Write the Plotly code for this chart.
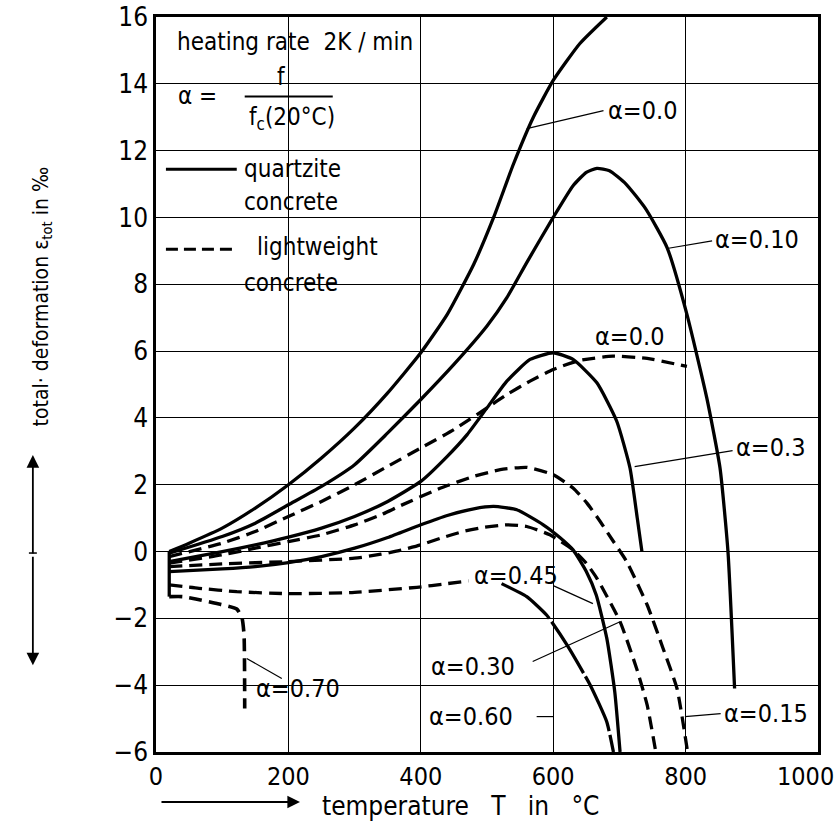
import plotly.graph_objects as go

# ---------------- data (temperature in °C, total deformation in ‰) ----------------
# quartzite concrete (solid)
q00_x = [20, 50, 100, 150, 200, 250, 300, 350, 400, 440, 480, 510, 540, 570, 600, 640, 681]
q00_y = [0, 0.25, 0.7, 1.3, 2.0, 2.8, 3.7, 4.75, 5.95, 7.1, 8.6, 10.0, 11.6, 13.0, 14.1, 15.2, 16.0]

q10_x = [20, 100, 150, 200, 250, 300, 350, 400, 450, 500, 530, 560, 600, 630, 650, 666, 685, 710, 740, 772, 802, 832, 852, 864, 874]
q10_y = [-0.05, 0.45, 0.85, 1.4, 1.95, 2.6, 3.55, 4.55, 5.6, 6.75, 7.6, 8.65, 10.0, 10.95, 11.35, 11.47, 11.4, 11.0, 10.25, 9.1, 7.1, 4.6, 2.5, 0.0, -4.1]

q30_x = [20, 100, 150, 200, 250, 300, 350, 400, 440, 470, 500, 530, 565, 600, 630, 666, 696, 716, 727, 734]
q30_y = [-0.3, 0.0, 0.2, 0.43, 0.7, 1.05, 1.5, 2.1, 2.85, 3.5, 4.3, 5.1, 5.75, 5.95, 5.75, 5.05, 3.9, 2.5, 1.0, 0.0]

q45_x = [20, 100, 150, 200, 250, 300, 350, 400, 440, 480, 510, 545, 585, 610, 630, 650, 665, 681, 693, 701]
q45_y = [-0.6, -0.52, -0.45, -0.33, -0.15, 0.1, 0.42, 0.8, 1.08, 1.28, 1.35, 1.25, 0.8, 0.42, 0.05, -0.6, -1.3, -2.6, -4.2, -6.0]

# lowest curve (label alpha = 0.60): left part short dashes, right part long strokes
q60a_x = [20, 65, 122, 198, 293, 394, 440, 472]
q60a_y = [-1.0, -1.1, -1.2, -1.26, -1.23, -1.07, -0.96, -0.88]
q60b_x = [522, 560, 590, 621, 656, 681, 691]
q60b_y = [-0.96, -1.35, -1.9, -2.8, -4.0, -5.1, -6.0]

# lightweight concrete (dashed)
l00_x = [20, 100, 150, 200, 250, 300, 350, 400, 450, 500, 530, 565, 600, 640, 690, 742, 802]
l00_y = [-0.15, 0.25, 0.6, 1.05, 1.5, 2.0, 2.55, 3.1, 3.65, 4.3, 4.7, 5.1, 5.45, 5.72, 5.85, 5.78, 5.54]

l15_x = [20, 100, 150, 200, 250, 300, 340, 370, 430, 480, 520, 560, 600, 630, 651, 671, 691, 711, 742, 766, 787, 803]
l15_y = [-0.35, -0.1, 0.1, 0.3, 0.5, 0.8, 1.1, 1.38, 1.9, 2.25, 2.45, 2.52, 2.3, 1.9, 1.45, 0.9, 0.3, -0.3, -1.6, -2.9, -4.1, -6.0]

l30_x = [20, 100, 200, 300, 340, 370, 400, 430, 464, 494, 530, 560, 595, 630, 650, 666, 701, 726, 742, 755]
l30_y = [-0.45, -0.37, -0.3, -0.2, -0.08, 0.04, 0.2, 0.4, 0.6, 0.72, 0.8, 0.75, 0.5, 0.05, -0.35, -0.8, -2.1, -3.5, -4.6, -6.0]

l70_x = [20, 40, 60, 90, 122, 130, 133, 134]
l70_y = [-1.35, -1.35, -1.42, -1.55, -1.72, -2.0, -2.5, -4.7]

load_x = [20, 20]
load_y = [0, -1.35]

x_ticks = [0, 200, 400, 600, 800, 1000]
x_ticktext = ["0", "200", "400", "600", "800", ""]   # "1000" is placed separately so it stays inside the page
y_ticks = [-6, -4, -2, 0, 2, 4, 6, 8, 10, 12, 14, 16]

FONT = "DejaVu Sans Condensed, Liberation Sans Narrow, sans-serif"
DASH = "13px,7px"
LW = 3.3
NB = "\u00a0"

fig = go.Figure()

def add(x, y, dash="solid", w=LW):
    fig.add_trace(go.Scatter(x=x, y=y, mode="lines", showlegend=False,
                             line=dict(color="black", width=w, dash=dash, shape="spline", smoothing=0.5),
                             hoverinfo="skip"))

add(q00_x, q00_y)
add(q10_x, q10_y)
add(q30_x, q30_y)
add(q45_x, q45_y)
add(q60a_x, q60a_y, DASH)
add(q60b_x, q60b_y, "60px,4px")
add(l00_x, l00_y, DASH)
add(l15_x, l15_y, DASH)
add(l30_x, l30_y, DASH)
add(l70_x, l70_y, DASH, 3.6)
fig.add_trace(go.Scatter(x=load_x, y=load_y, mode="lines", showlegend=False,
                         line=dict(color="black", width=LW), hoverinfo="skip"))

annotations = []

def txt(x, y, s, size=24, anchor="left"):
    annotations.append(dict(x=x, y=y, xref="x", yref="y", text=s, showarrow=False,
                            xanchor=anchor, yanchor="middle",
                            font=dict(family=FONT, size=size, color="black")))

# header texts
txt(28, 15.25, "heating rate  2K / min", 24)
txt(30, 13.65, "α =", 24)
txt(190, 14.2, "f", 24, "center")
txt(205, 12.96, "f<sub>c</sub>(20°C)", 24, "center")
txt(130, 11.44, "quartzite", 24)
txt(130, 10.45, "concrete", 24)
txt(150, 9.12, "lightweight", 24)
txt(130, 8.05, "concrete", 24)

# curve labels
txt(679, 13.2, "α=0.0", 25)
txt(842, 9.35, "α=0.10", 25)
txt(660, 6.45, "α=0.0", 25)
txt(873, 3.1, "α=0.3", 25)
txt(478, -0.72, "α=0.45", 25)
txt(412, -3.44, "α=0.30", 25)
txt(410, -4.94, "α=0.60", 25)
txt(855, -4.85, "α=0.15", 25)
txt(148, -4.1, "α=0.70", 25)

shapes = []
def seg(x0, y0, x1, y1, w=1.2, dash="solid"):
    shapes.append(dict(type="line", xref="x", yref="y", x0=x0, y0=y0, x1=x1, y1=y1,
                       line=dict(color="black", width=w, dash=dash)))

# fraction bar and legend samples
seg(134, 13.62, 267, 13.62, 2)
seg(15, 11.44, 122, 11.44, 3)
seg(15, 9.05, 122, 9.05, 3, "12px,6px")
# leader lines
seg(560, 12.66, 676, 13.2)
seg(772, 9.07, 840, 9.3)
seg(723, 2.54, 871, 3.02)
seg(600, -1.02, 660, -1.56)
seg(569, -3.29, 701, -2.1)
seg(575, -4.94, 600, -4.94)
seg(799, -4.94, 853, -4.85)
seg(137, -3.2, 190, -3.8)
# small cross-mark in the middle of the vertical double arrow
shapes.append(dict(type="line", xref="paper", yref="paper", x0=-0.192, x1=-0.180, y0=0.2707, y1=0.2707,
                   line=dict(color="black", width=1.5)))

# axis-title arrows and titles (paper coords)
extra = [
    dict(x=-0.186, y=0.404, xref="paper", yref="paper", ax=0, ay=100, showarrow=True,
         arrowhead=2, arrowsize=1.4, arrowwidth=1.8, arrowcolor="black", text=""),
    dict(x=-0.186, y=0.118, xref="paper", yref="paper", ax=0, ay=-110, showarrow=True,
         arrowhead=2, arrowsize=1.4, arrowwidth=1.8, arrowcolor="black", text=""),
    dict(x=0.2175, y=-0.068, xref="paper", yref="paper", ax=-140, ay=0, showarrow=True,
         arrowhead=2, arrowsize=1.4, arrowwidth=1.8, arrowcolor="black", text=""),
    dict(x=0.248, y=-0.074, xref="paper", yref="paper", showarrow=False, xanchor="left",
         yanchor="middle", text="temperature" + NB * 3 + "T" + NB * 3 + "in" + NB * 3 + "°C",
         font=dict(family=FONT, size=26, color="black")),
    dict(x=-0.172, y=0.62, xref="paper", yref="paper", showarrow=False, textangle=-90,
         xanchor="center", yanchor="middle", text="total· deformation ε<sub>tot</sub> in ‰",
         font=dict(family=FONT, size=21, color="black")),
    dict(x=1.027, y=-0.0327, xref="paper", yref="paper", showarrow=False, xanchor="right",
         yanchor="middle", text=str(x_ticks[-1]),
         font=dict(family=FONT, size=25, color="black")),
]

fig.update_layout(annotations=annotations + extra, shapes=shapes)

fig.update_xaxes(range=[0, 1000], tickvals=x_ticks, ticktext=x_ticktext,
                 showgrid=True, gridcolor="black", gridwidth=1, zeroline=False,
                 showline=True, linecolor="black", linewidth=2.5, mirror=True, ticks="",
                 automargin=False,
                 tickfont=dict(family=FONT, size=25, color="black"))
fig.update_yaxes(range=[-6, 16], tickvals=y_ticks,
                 showgrid=True, gridcolor="black", gridwidth=1, zeroline=False,
                 showline=True, linecolor="black", linewidth=2.5, mirror=True, ticks="",
                 automargin=False,
                 tickfont=dict(family=FONT, size=26, color="black"))

fig.update_layout(width=838, height=832, plot_bgcolor="white", paper_bgcolor="white",
                  margin=dict(l=156, r=20, t=17, b=80), showlegend=False)

fig.write_html("out.html", config={"displayModeBar": False},
               post_script="document.body.style.margin='0';")
